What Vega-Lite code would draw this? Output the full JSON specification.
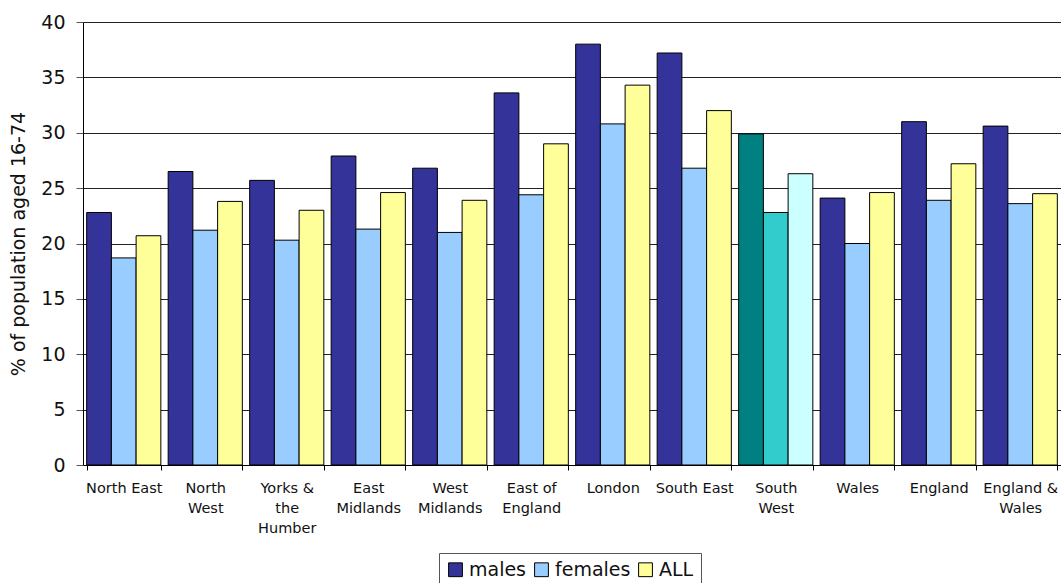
{
  "$schema": "https://vega.github.io/schema/vega-lite/v6.json",
  "width": 978,
  "height": 443,
  "autosize": {"type": "none"},
  "padding": {"left": 83, "top": 22, "right": 0, "bottom": 118},
  "background": "white",
  "config": {
    "font": "DejaVu Sans",
    "view": {"stroke": null},
    "axis": {"labelColor": "#111", "titleColor": "#111"}
  },
  "data": {
    "values": [
      {"region": "North East", "sex": "males", "pct": 22.8},
      {"region": "North East", "sex": "females", "pct": 18.7},
      {"region": "North East", "sex": "ALL", "pct": 20.7},
      {"region": "North West", "sex": "males", "pct": 26.5},
      {"region": "North West", "sex": "females", "pct": 21.2},
      {"region": "North West", "sex": "ALL", "pct": 23.8},
      {"region": "Yorks & the Humber", "sex": "males", "pct": 25.7},
      {"region": "Yorks & the Humber", "sex": "females", "pct": 20.3},
      {"region": "Yorks & the Humber", "sex": "ALL", "pct": 23.0},
      {"region": "East Midlands", "sex": "males", "pct": 27.9},
      {"region": "East Midlands", "sex": "females", "pct": 21.3},
      {"region": "East Midlands", "sex": "ALL", "pct": 24.6},
      {"region": "West Midlands", "sex": "males", "pct": 26.8},
      {"region": "West Midlands", "sex": "females", "pct": 21.0},
      {"region": "West Midlands", "sex": "ALL", "pct": 23.9},
      {"region": "East of England", "sex": "males", "pct": 33.6},
      {"region": "East of England", "sex": "females", "pct": 24.4},
      {"region": "East of England", "sex": "ALL", "pct": 29.0},
      {"region": "London", "sex": "males", "pct": 38.0},
      {"region": "London", "sex": "females", "pct": 30.8},
      {"region": "London", "sex": "ALL", "pct": 34.3},
      {"region": "South East", "sex": "males", "pct": 37.2},
      {"region": "South East", "sex": "females", "pct": 26.8},
      {"region": "South East", "sex": "ALL", "pct": 32.0},
      {"region": "South West", "sex": "males", "pct": 29.9},
      {"region": "South West", "sex": "females", "pct": 22.8},
      {"region": "South West", "sex": "ALL", "pct": 26.3},
      {"region": "Wales", "sex": "males", "pct": 24.1},
      {"region": "Wales", "sex": "females", "pct": 20.0},
      {"region": "Wales", "sex": "ALL", "pct": 24.6},
      {"region": "England", "sex": "males", "pct": 31.0},
      {"region": "England", "sex": "females", "pct": 23.9},
      {"region": "England", "sex": "ALL", "pct": 27.2},
      {"region": "England & Wales", "sex": "males", "pct": 30.6},
      {"region": "England & Wales", "sex": "females", "pct": 23.6},
      {"region": "England & Wales", "sex": "ALL", "pct": 24.5}
    ]
  },
  "encoding": {
    "x": {
      "field": "region",
      "type": "nominal",
      "sort": null,
      "scale": {
        "domain": ["North East", "North West", "Yorks & the Humber", "East Midlands", "West Midlands", "East of England", "London", "South East", "South West", "Wales", "England", "England & Wales"],
        "paddingInner": 0.09,
        "paddingOuter": 0.045
      },
      "axis": {
        "title": null,
        "labelAngle": 0,
        "labelFontSize": 14.5,
        "labelLineHeight": 20,
        "labelPadding": 11,
        "labelColor": "#111",
        "tickBand": "extent",
        "tickSize": 5,
        "tickColor": "#000",
        "domainColor": "#000",
        "labelExpr": "datum.label == 'North West' ? ['North', 'West'] : datum.label == 'Yorks & the Humber' ? ['Yorks &', 'the', 'Humber'] : datum.label == 'East Midlands' ? ['East', 'Midlands'] : datum.label == 'West Midlands' ? ['West', 'Midlands'] : datum.label == 'East of England' ? ['East of', 'England'] : datum.label == 'South West' ? ['South', 'West'] : datum.label == 'England & Wales' ? ['England &', 'Wales'] : datum.label"
      }
    },
    "xOffset": {
      "field": "sex",
      "type": "nominal",
      "sort": ["males", "females", "ALL"],
      "scale": {"domain": ["males", "females", "ALL"], "paddingInner": 0, "paddingOuter": 0}
    },
    "y": {
      "field": "pct",
      "type": "quantitative",
      "scale": {"domain": [0, 40], "nice": false},
      "axis": {
        "title": "% of population aged 16-74",
        "titleFontSize": 19,
        "titleFontWeight": "normal",
        "titlePadding": 12,
        "values": [0, 5, 10, 15, 20, 25, 30, 35, 40],
        "labelFontSize": 19,
        "labelPadding": 11,
        "tickSize": 7,
        "tickColor": "#555",
        "domainColor": "#000",
        "gridColor": "#222",
        "gridWidth": 1
      }
    }
  },
  "layer": [
    {
      "transform": [{"filter": "datum.region != 'South West'"}],
      "mark": {"type": "bar", "stroke": "#000", "strokeWidth": 1},
      "encoding": {
        "fill": {
          "field": "sex",
          "type": "nominal",
          "scale": {"domain": ["males", "females", "ALL"], "range": ["#333399", "#99CCFF", "#FFFF99"]},
          "legend": {
            "title": null,
            "orient": "none",
            "legendX": 356,
            "legendY": 531,
            "direction": "horizontal",
            "columns": 3,
            "symbolType": "square",
            "symbolSize": 190,
            "symbolStrokeColor": "#000",
            "symbolStrokeWidth": 1,
            "labelFontSize": 19,
            "labelColor": "#111",
            "labelOffset": 4,
            "columnPadding": 5,
            "strokeColor": "#555",
            "padding": 7,
            "fillColor": "white"
          }
        }
      }
    },
    {
      "transform": [{"filter": "datum.region == 'South West'"}],
      "mark": {"type": "bar", "stroke": "#000", "strokeWidth": 1},
      "encoding": {
        "fill": {
          "field": "sex",
          "type": "nominal",
          "scale": {"domain": ["males", "females", "ALL"], "range": ["#008080", "#33CCCC", "#CCFFFF"]},
          "legend": null
        }
      }
    }
  ],
  "resolve": {"scale": {"fill": "independent"}, "legend": {"fill": "independent"}}
}
